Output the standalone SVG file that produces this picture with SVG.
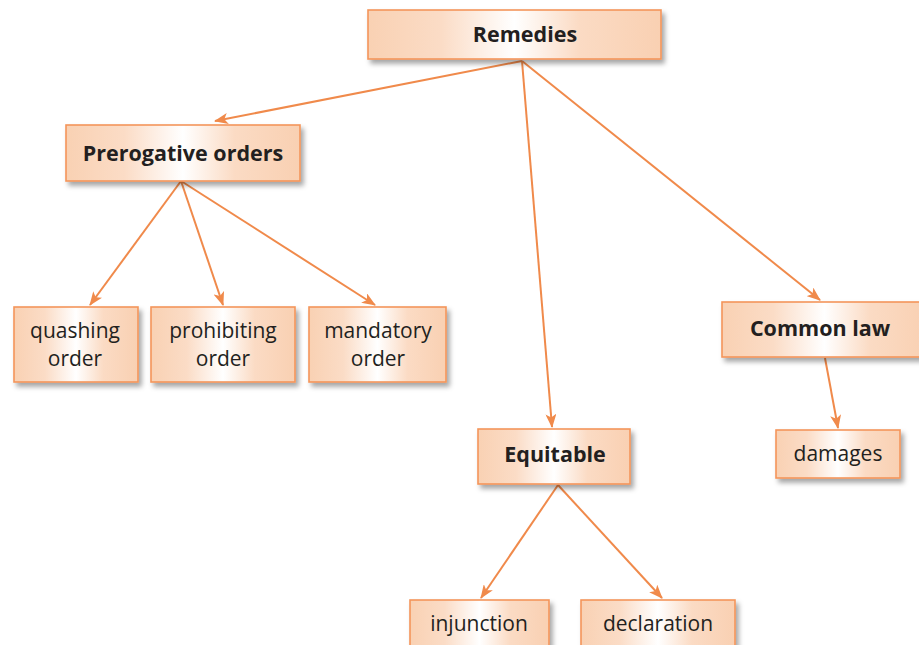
<svg xmlns="http://www.w3.org/2000/svg" width="919" height="645" viewBox="0 0 919 645">
  <defs>
    <linearGradient id="boxFill" x1="0" y1="0" x2="1" y2="0">
      <stop offset="0" stop-color="#f9d1b3"/>
      <stop offset="0.25" stop-color="#fbdcc6"/>
      <stop offset="0.5" stop-color="#ffffff"/>
      <stop offset="0.72" stop-color="#fbdbc4"/>
      <stop offset="1" stop-color="#f9d0b2"/>
    </linearGradient>
    <filter id="shadow" x="-10%" y="-20%" width="130%" height="160%">
      <feDropShadow dx="3" dy="4" stdDeviation="2.5" flood-color="#000" flood-opacity="0.35"/>
    </filter>
    <marker id="arrow" viewBox="0 0 14 11" refX="13" refY="5.5" markerWidth="14" markerHeight="11" markerUnits="userSpaceOnUse" orient="auto">
      <path d="M0,0 L14,5.5 L0,11 L3.5,5.5 z" fill="#f08a4b"/>
    </marker>
  </defs>
  <style>
    .box { fill: url(#boxFill); stroke: #f4955a; stroke-width: 1.6; filter: url(#shadow); }
    .head { font-family: "Open Sans", "Noto Sans", "Liberation Sans", sans-serif; font-weight: bold; font-size: 21.5px; fill: #231f20; text-anchor: middle; }
    .leaf { font-family: "Open Sans", "Noto Sans", "Liberation Sans", sans-serif; font-size: 21px; fill: #231f20; text-anchor: middle; }
    .edge { stroke: #f08a4b; stroke-width: 2; fill: none; marker-end: url(#arrow); }
  </style>
  <rect width="919" height="645" fill="#ffffff"/>

  <!-- arrows from each parent box to its children -->
  <g id="connectors">
    <line class="edge" x1="522" y1="61" x2="215" y2="121"/>
    <line class="edge" x1="522" y1="61" x2="552" y2="427"/>
    <line class="edge" x1="522" y1="61" x2="820" y2="300"/>
    <line class="edge" x1="181" y1="181" x2="90" y2="305"/>
    <line class="edge" x1="181" y1="181" x2="223" y2="305"/>
    <line class="edge" x1="181" y1="181" x2="375" y2="305"/>
    <line class="edge" x1="825" y1="358" x2="838" y2="428"/>
    <line class="edge" x1="558" y1="485" x2="481" y2="598"/>
    <line class="edge" x1="558" y1="485" x2="662" y2="598"/>
  </g>

  <g id="remedies">
    <rect class="box" x="368" y="10" width="293" height="49"/>
    <text class="head" x="525" y="42">Remedies</text>
  </g>
  <g id="prerogative-orders">
    <rect class="box" x="66" y="125" width="234" height="56"/>
    <text class="head" x="183" y="161">Prerogative orders</text>
  </g>
  <g id="quashing-order">
    <rect class="box" x="14" y="307" width="124" height="75"/>
    <text class="leaf" x="75" y="338">quashing</text>
    <text class="leaf" x="75" y="366">order</text>
  </g>
  <g id="prohibiting-order">
    <rect class="box" x="151" y="307" width="144" height="75"/>
    <text class="leaf" x="223" y="338">prohibiting</text>
    <text class="leaf" x="223" y="366">order</text>
  </g>
  <g id="mandatory-order">
    <rect class="box" x="309" y="307" width="137" height="75"/>
    <text class="leaf" x="378" y="338">mandatory</text>
    <text class="leaf" x="378" y="366">order</text>
  </g>
  <g id="common-law">
    <rect class="box" x="722" y="302" width="205" height="55"/>
    <text class="head" x="820" y="336">Common law</text>
  </g>
  <g id="damages">
    <rect class="box" x="776" y="430" width="124" height="48"/>
    <text class="leaf" x="838" y="461">damages</text>
  </g>
  <g id="equitable">
    <rect class="box" x="478" y="429" width="152" height="55"/>
    <text class="head" x="555" y="462">Equitable</text>
  </g>
  <g id="injunction">
    <rect class="box" x="410" y="600" width="139" height="55"/>
    <text class="leaf" x="479" y="631">injunction</text>
  </g>
  <g id="declaration">
    <rect class="box" x="581" y="600" width="154" height="55"/>
    <text class="leaf" x="658" y="631">declaration</text>
  </g>
</svg>
